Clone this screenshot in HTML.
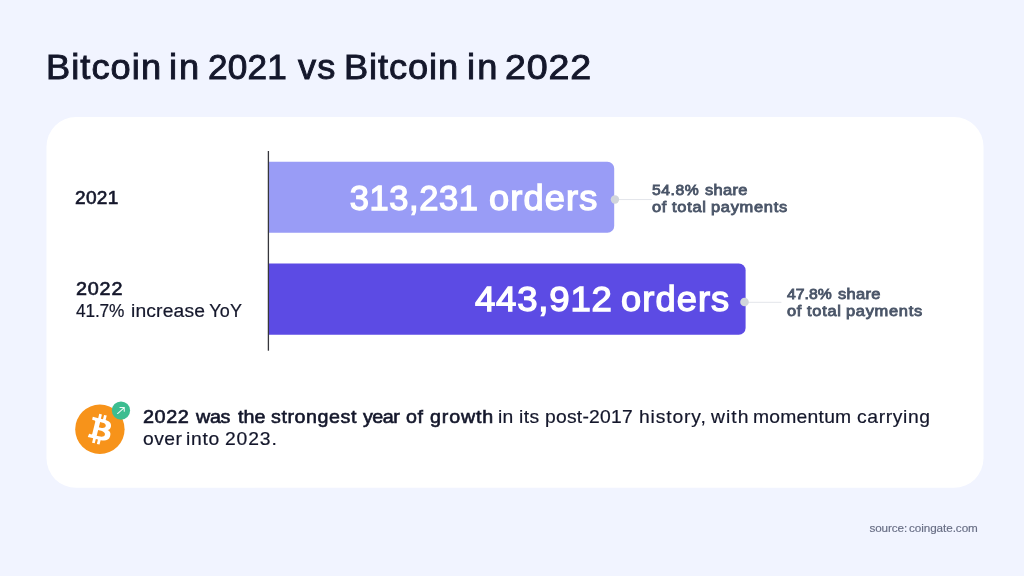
<!DOCTYPE html>
<html lang="en">
<head>
<meta charset="utf-8">
<title>Bitcoin in 2021 vs Bitcoin in 2022</title>
<style>
  html, body { margin: 0; padding: 0; }
  body {
    width: 1024px; height: 576px; overflow: hidden; position: relative;
    background: #f1f4ff;
    font-family: "Liberation Sans", sans-serif;
    color: #14172b;
  }
  .w { position: absolute; top: 0; display: inline-block; transform-origin: 0 50%; white-space: nowrap; }
  .line { position: absolute; left: 0; width: 1024px; white-space: nowrap; line-height: 1; }
  #title { top: 49.8px; height: 34.5px; font-size: 34.5px; -webkit-text-stroke: 0.9px; }
  .barlabel { color: #fff; font-size: 34.5px; height: 34.5px; -webkit-text-stroke: 1.3px; }
  #bl1 { top: 180.7px; }
  #bl2 { top: 281.6px; }
  .ylab { font-size: 18px; height: 18px; -webkit-text-stroke: 0.2px; }
  .ylab.sb { -webkit-text-stroke: 0.6px; }
  #y1 { top: 189.3px; }
  #y2 { top: 280.2px; }
  #y2b { top: 302.2px; }
  .note { font-size: 14.3px; height: 14.3px; color: #4a5568; -webkit-text-stroke: 0.8px; }
  #n1a { top: 182.8px; } #n1b { top: 200.2px; } #n2a { top: 286.6px; } #n2b { top: 304px; }
  .foot { font-size: 18.4px; height: 18.4px; -webkit-text-stroke: 0.2px; }
  .foot .sb { -webkit-text-stroke: 0.6px; }
  #f1 { top: 407.7px; } #f2 { top: 429.9px; }
  #src { top: 521.6px; height: 11.7px; font-size: 11.7px; color: #676d84; -webkit-text-stroke: 0.15px; }
</style>
</head>
<body>
  <div id="title" class="line"><span class="w" style="left:45.58px;letter-spacing:1.006px;transform:scaleX(1.05)">Bitcoin</span> <span class="w" style="left:168.66px;letter-spacing:1.798px;transform:scaleX(1.05)">in</span> <span class="w" style="left:207.53px;letter-spacing:0.152px;transform:scaleX(1.02)">2021</span> <span class="w" style="left:298.22px;letter-spacing:1.083px;transform:scaleX(1.05)">vs</span> <span class="w" style="left:344.27px;letter-spacing:0.871px;transform:scaleX(1.05)">Bitcoin</span> <span class="w" style="left:466.56px;letter-spacing:2.179px;transform:scaleX(1.05)">in</span> <span class="w" style="left:505.04px;letter-spacing:0.755px;transform:scaleX(1.09)">2022</span></div>

  <svg id="shapes" style="position:absolute; left:0; top:0;" width="1024" height="576" viewBox="0 0 1024 576">
    <rect id="card" x="46.5" y="117" width="937" height="370.8" rx="29.5" ry="29.5" fill="#ffffff"/>
    <path id="bar1" fill="#999cf6" d="M269 161.7 H607.4 a6.8 6.8 0 0 1 6.8 6.8 V225.95 a6.8 6.8 0 0 1 -6.8 6.8 H269 Z"/>
    <path id="bar2" fill="#5c4be4" d="M269 263.4 H738.8 a6.8 6.8 0 0 1 6.8 6.8 V327.95 a6.8 6.8 0 0 1 -6.8 6.8 H269 Z"/>
    <rect id="axis" x="267.75" y="151" width="1.3" height="199.7" fill="#36363b"/>
    <rect x="615" y="199.05" width="36.8" height="1" fill="#e3e5ea"/>
    <circle cx="614.95" cy="199.45" r="4.2" fill="#d1d5db"/>
    <rect x="745" y="301.8" width="36.4" height="1" fill="#e3e5ea"/>
    <circle cx="744.5" cy="302" r="4.3" fill="#d1d5db"/>
    <g id="btc" transform="translate(75.2 404.5) scale(1.54375)">
      <circle cx="16" cy="16" r="16" fill="#f7931a"/>
    <path fill="#fff" d="M23.189 14.02c.314-2.096-1.283-3.223-3.465-3.975l.708-2.84-1.728-.43-.69 2.765c-.454-.114-.92-.22-1.385-.326l.695-2.783L15.596 6l-.708 2.839c-.376-.086-.746-.17-1.104-.26l.002-.009-2.384-.595-.46 1.846s1.283.294 1.256.312c.7.175.826.638.805 1.006l-.806 3.235c.048.012.11.03.18.057l-.183-.045-1.13 4.532c-.086.212-.303.531-.793.41.018.025-1.256-.313-1.256-.313l-.858 1.978 2.25.561c.418.105.828.215 1.231.318l-.715 2.872 1.727.43.708-2.84c.472.127.93.245 1.378.357l-.706 2.828 1.728.43.715-2.866c2.948.558 5.164.333 6.097-2.333.752-2.146-.037-3.385-1.588-4.192 1.13-.26 1.98-1.003 2.207-2.538zm-3.95 5.538c-.533 2.147-4.148.986-5.32.695l.95-3.805c1.172.293 4.929.872 4.37 3.11zm.535-5.569c-.487 1.953-3.495.96-4.47.717l.86-3.45c.975.243 4.118.696 3.61 2.733z"/>
    </g>
    <g id="badge" transform="translate(111.47 401.05)">
      <circle cx="9.5" cy="9.5" r="9.15" fill="#3cbd90"/>
      <path d="M6.1 12.5 L12.8 6.5 M8.5 6.5 H12.8 V10.3" fill="none" stroke="#fff" stroke-opacity="0.92" stroke-width="1.05" stroke-linecap="round" stroke-linejoin="round"/>
    </g>
  </svg>

  <div id="bl1" class="line barlabel"><span class="w" style="left:349.8px;letter-spacing:0.558px">313,231</span> <span class="w" style="left:489.31px;letter-spacing:1.1px;transform:scaleX(1.05)">orders</span></div>
  <div id="bl2" class="line barlabel"><span class="w" style="left:475.04px;letter-spacing:0.732px;transform:scaleX(1.06)">443,912</span> <span class="w" style="left:621.41px;letter-spacing:1.043px;transform:scaleX(1.05)">orders</span></div>

  <div id="y1" class="line ylab sb"><span class="w" style="left:75.37px;letter-spacing:0.27px;transform:scaleX(1.06)">2021</span></div>
  <div id="y2" class="line ylab sb"><span class="w" style="left:75.55px;letter-spacing:0.727px;transform:scaleX(1.1)">2022</span></div>
  <div id="y2b" class="line ylab"><span class="w" style="left:75.67px;letter-spacing:-0.143px;transform:scaleX(0.96)">41.7%</span> <span class="w" style="left:130.56px;letter-spacing:0.144px;transform:scaleX(1.07)">increase</span> <span class="w" style="left:209.2px;letter-spacing:0.225px">YoY</span></div>
  <div id="n1a" class="line note"><span class="w" style="left:652.43px;letter-spacing:0.506px;transform:scaleX(1.1)">54.8%</span> <span class="w" style="left:705.3px;letter-spacing:0.255px;transform:scaleX(1.15)">share</span></div>
  <div id="n1b" class="line note"><span class="w" style="left:652.11px;letter-spacing:0.478px;transform:scaleX(1.15)">of</span> <span class="w" style="left:672.49px;letter-spacing:0.639px;transform:scaleX(1.15)">total</span> <span class="w" style="left:711.32px;letter-spacing:0.604px;transform:scaleX(1.15)">payments</span></div>
  <div id="n2a" class="line note"><span class="w" style="left:787.3px;letter-spacing:0.034px;transform:scaleX(1.1)">47.8%</span> <span class="w" style="left:837.9px;letter-spacing:0.255px;transform:scaleX(1.15)">share</span></div>
  <div id="n2b" class="line note"><span class="w" style="left:787.01px;letter-spacing:0.478px;transform:scaleX(1.15)">of</span> <span class="w" style="left:807.49px;letter-spacing:0.639px;transform:scaleX(1.15)">total</span> <span class="w" style="left:846.32px;letter-spacing:0.604px;transform:scaleX(1.15)">payments</span></div>

  <div id="f1" class="line foot"><span class="w sb" style="left:142.69px;letter-spacing:0.522px;transform:scaleX(1.08)">2022</span> <span class="w sb" style="left:196.23px;letter-spacing:-0.254px;transform:scaleX(1.07)">was</span> <span class="w sb" style="left:237.7px;letter-spacing:0.07px;transform:scaleX(1.07)">the</span> <span class="w sb" style="left:270.53px;letter-spacing:0.527px;transform:scaleX(1.07)">strongest</span> <span class="w sb" style="left:363.37px;letter-spacing:-0.442px;transform:scaleX(1.07)">year</span> <span class="w sb" style="left:406.36px;letter-spacing:0.451px;transform:scaleX(1.07)">of</span> <span class="w sb" style="left:429.71px;letter-spacing:0.773px;transform:scaleX(1.07)">growth</span> <span class="w" style="left:498.39px;letter-spacing:0.155px;transform:scaleX(1.05)">in</span> <span class="w" style="left:518.69px;letter-spacing:0.417px;transform:scaleX(1.05)">its</span> <span class="w" style="left:545.19px;letter-spacing:0.217px;transform:scaleX(1.05)">post-2017</span> <span class="w" style="left:638.69px;letter-spacing:0.81px;transform:scaleX(1.05)">history,</span> <span class="w" style="left:710.7px;letter-spacing:0.992px;transform:scaleX(1.05)">with</span> <span class="w" style="left:753.09px;letter-spacing:0.221px;transform:scaleX(1.05)">momentum</span> <span class="w" style="left:856.71px;letter-spacing:0.588px;transform:scaleX(1.05)">carrying</span></div>
  <div id="f2" class="line foot"><span class="w" style="left:142.71px;letter-spacing:0.417px;transform:scaleX(1.05)">over</span> <span class="w" style="left:186.29px;letter-spacing:0.655px;transform:scaleX(1.05)">into</span> <span class="w" style="left:224.75px;letter-spacing:0.842px;transform:scaleX(1.05)">2023.</span></div>

  <div id="src" class="line"><span class="w" style="left:869.4px;letter-spacing:-0.075px">source:</span> <span class="w" style="left:909.0px;letter-spacing:-0.064px">coingate.com</span></div>
</body>
</html>
